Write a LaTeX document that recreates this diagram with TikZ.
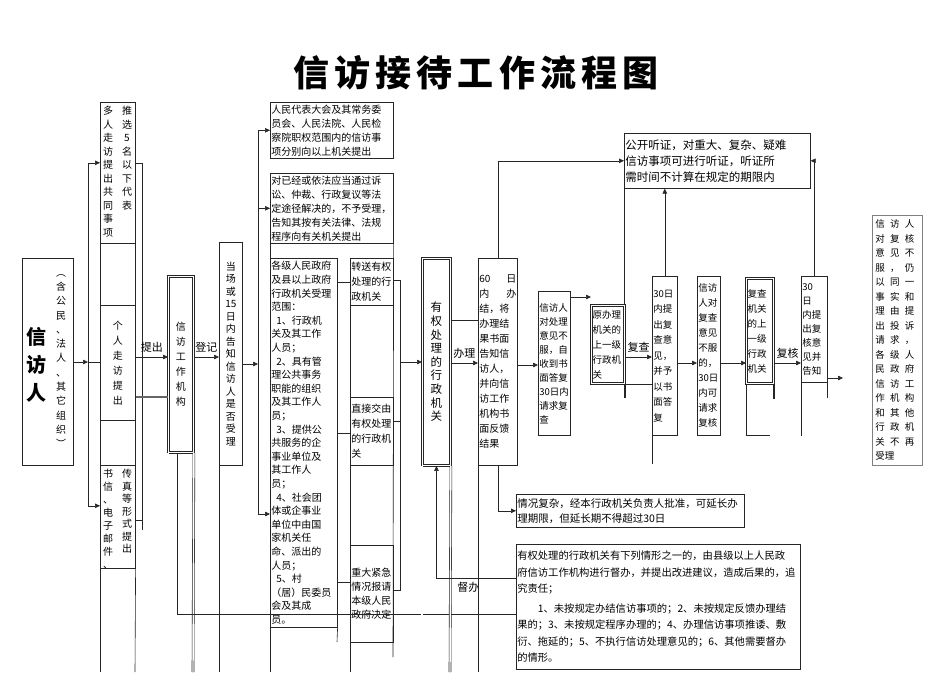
\documentclass[tikz,border=0pt]{standalone}
\usepackage{fontspec}
\setmainfont{Noto Sans CJK SC}
\usetikzlibrary{arrows.meta}
\newcommand{\fz}[2]{\fontsize{#1}{#2}\selectfont}
\newcommand{\trio}[3]{\makebox[39pt][s]{#1\hfil#2\hfil#3}}

\begin{document}
\begin{tikzpicture}[x=1pt,y=-1pt,line width=0.6pt,draw=black!85,
		box/.style={draw,anchor=north west,inner sep=1pt,font=\fz{10}{14}},
		vbox/.style={box,align=center},
		hbox/.style={box,align=left},
		col/.style={anchor=north,align=center,inner sep=2pt},
		dbl/.style={double,double distance=1.4pt},
		arr/.style={-{Triangle[length=5pt,width=4.5pt]}},
		lbl/.style={font=\fz{11}{13},inner sep=1pt}]
		\useasboundingbox (0,0) rectangle (950,672);
		\node[font=\fz{36}{38}\bfseries\addfontfeature{LetterSpace=14}] (title) at (476,73) {信访接待工作流程图};

		\node[box,minimum width=51pt,minimum height=207pt] (visitor) at (22,258) {};
		\node[font=\fz{20}{28}\bfseries,align=center] (vname) at (36,365) {信\\访\\人};
		\node[font=\fz{10}{14.3},align=center] (vnote) at (61,361) {︵\\含\\公\\民\\、\\法\\人\\、\\其\\它\\组\\织\\︶};

		\node[box,minimum width=35pt,minimum height=141pt] (group) at (100,102) {};
		\node[col,font=\fz{10}{13.5}] (groupR) at (127,104) {推\\选\\5\\名\\以\\下\\代\\表};
		\node[col,font=\fz{10}{13.5}] (groupL) at (108,104) {多\\人\\走\\访\\提\\出\\共\\同\\事\\项};
		\draw (100,243) rectangle (135,305);
		\node[vbox,minimum width=35pt,minimum height=115pt,font=\fz{10}{15}] (single) at (100,305) {个\\人\\走\\访\\提\\出};
		\draw (100,420) rectangle (135,465);
		\node[box,minimum width=35pt,minimum height=103pt] (letter) at (100,465) {};
		\node[col,font=\fz{10}{12.5}] (letterR) at (127,467) {传\\真\\等\\形\\式\\提\\出};
		\node[col,font=\fz{10}{13}] (letterL) at (108,467) {书\\信\\、\\电\\子\\邮\\件\\、};

		\node[vbox,dbl,line width=0.9pt,minimum width=25pt,minimum height=176pt,font=\fz{10}{15}] (org) at (168,276) {信\\访\\工\\作\\机\\构};
		\node[vbox,minimum width=23pt,minimum height=223pt,font=\fz{10}{12.5}] (notice) at (219,242) {当\\场\\或\\15\\日\\内\\告\\知\\信\\访\\人\\是\\否\\受\\理};

		\node[hbox,text width=121pt,minimum height=56pt] (npc) at (270,102) {人民代表大会及其常务委\\员会、人民法院、人民检\\察院职权范围内的信访事\\项分别向以上机关提出};
		\node[hbox,text width=121pt,minimum height=70pt] (exclude) at (270,173) {对已经或依法应当通过诉\\讼、仲裁、行政复议等法\\定途径解决的，不予受理，\\告知其按有关法律、法规\\程序向有关机关提出};
		\node[hbox,text width=65pt,minimum height=369pt,font=\fz{10}{13.6}] (gov) at (270,258) {各级人民政府\\及县以上政府\\行政机关受理\\范围：\\\hspace*{5pt}1、行政机\\关及其工作\\人员；\\\hspace*{5pt}2、具有管\\理公共事务\\职能的组织\\及其工作人\\员；\\\hspace*{5pt}3、提供公\\共服务的企\\事业单位及\\其工作人\\员；\\\hspace*{5pt}4、社会团\\体或企事业\\单位中由国\\家机关任\\命、派出的\\人员；\\\hspace*{5pt}5、村\\（居）民委员\\会及其成\\员。};
		\node[hbox,text width=41pt,minimum height=47pt,font=\fz{10}{15}] (transfer) at (350,258) {转送有权\\处理的行\\政机关};
		\node[hbox,text width=41pt,minimum height=68pt,font=\fz{10}{15}] (direct) at (350,397) {直接交由\\有权处理\\的行政机\\关};
		\node[hbox,text width=41pt,minimum height=97pt,font=\fz{10}{14}] (major) at (350,545) {重大紧急\\情况报请\\本级人民\\政府决定};

		\node[vbox,dbl,line width=0.9pt,minimum width=28pt,minimum height=207pt,font=\fz{11.5}{13.6}] (auth) at (422,258) {有\\权\\处\\理\\的\\行\\政\\机\\关};
		\node[hbox,text width=37pt,minimum height=207pt,font=\fz{10}{15}] (res) at (478,258) {60\hfill 日\\内\hfill 办\\结，将\\办理结\\果书面\\告知信\\访人，\\并向信\\访工作\\机构书\\面反馈\\结果};
		\node[hbox,text width=226pt,minimum height=33pt,font=\fz{10.5}{15}] (ext) at (516,494) {情况复杂，经本行政机关负责人批准，可延长办\\理期限，但延长期不得超过30日};
		\node[hbox,text width=282pt,minimum height=125pt,font=\fz{10.3}{16.5}] (super) at (516,544) {有权处理的行政机关有下列情形之一的，由县级以上人民政\\府信访工作机构进行督办，并提出改进建议，造成后果的，追\\究责任；\\[3pt]\hspace*{2em}1、未按规定办结信访事项的；2、未按规定反馈办理结\\果的；3、未按规定程序办理的；4、办理信访事项推诿、敷\\衍、拖延的；5、不执行信访处理意见的；6、其他需要督办\\的情形。};

		\node[hbox,text width=30pt,minimum height=144pt,font=\fz{9.5}{14}] (obj) at (538,291) {信访人\\对处理\\意见不\\服，自\\收到书\\面答复\\30日内\\请求复\\查};
		\node[hbox,text width=184pt,minimum height=55pt,font=\fz{11.5}{16}] (hear) at (624,133) {公开听证，对重大、复杂、疑难\\信访事项可进行听证，听证所\\需时间不计算在规定的期限内};
		\node[hbox,dbl,line width=1pt,text width=31pt,minimum height=78pt,font=\fz{9.5}{15}] (up1) at (591,305) {原办理\\机关的\\上一级\\行政机\\关};
		\node[hbox,text width=23pt,minimum height=159pt,font=\fz{9.5}{15.5}] (rev) at (652,276) {30日\\内提\\出复\\查意\\见，\\并予\\以书\\面答\\复};
		\node[hbox,text width=21pt,minimum height=159pt,font=\fz{9.5}{15}] (obj2) at (697,276) {信访\\人对\\复查\\意见\\不服\\的，\\30日\\内可\\请求\\复核};
		\node[hbox,dbl,line width=1pt,text width=25pt,minimum height=105pt,font=\fz{9.5}{15}] (up2) at (746,278) {复查\\机关\\的上\\一级\\行政\\机关};
		\node[hbox,text width=24pt,minimum height=106pt,font=\fz{9.5}{14}] (fin) at (801,276) {30\\日\\内提\\出复\\核意\\见并\\告知};
		\node[hbox,draw=gray,text width=44pt,inner xsep=3pt,minimum height=250pt,font=\fz{9.5}{14.5}] (final) at (872,215) {\trio{信}{访}{人}\\\trio{对}{复}{核}\\\trio{意}{见}{不}\\\trio{服}{，}{仍}\\\trio{以}{同}{一}\\\trio{事}{实}{和}\\\trio{理}{由}{提}\\\trio{出}{投}{诉}\\\trio{请}{求}{，}\\\trio{各}{级}{人}\\\trio{民}{政}{府}\\\trio{信}{访}{工}\\\trio{作}{机}{构}\\\trio{和}{其}{他}\\\trio{行}{政}{机}\\\trio{关}{不}{再}\\受理};

		\coordinate (fan) at (88,362);
		\coordinate (bus) at (258,364);
		\coordinate (fork) at (400,362);
		\coordinate (finout) at (843,378);
		\coordinate (o1) at ([yshift=-6pt]obj.north east);

		\draw[arr] (visitor.east |- fan) -- (fan);
		\draw[arr] (fan) |- ([yshift=10pt]group.west);
		\draw[arr] (fan) |- ([yshift=11pt]letter.west);
		\draw (fan) -- (single.west |- fan);
		\draw (letter.south west) -- (100,672);
		\draw (letter.south east) -- (135,672);
		\draw ([yshift=10pt]group.east) -| (142,530);
		\draw (letter.east |- 0,520) -- (142,520);
		\draw[arr] (single.east |- 0,357) -- node[lbl,above=3pt] (tichu) {提出} (org.west |- 0,357);
		\draw[line width=1.3pt,black!60] (single.east |- 0,397) -- (org.west |- 0,397);

		\draw[dbl] (org.south west) -- (168,672);
		\draw[dbl] (org.south east) -- (193,672);
		\draw ([xshift=9pt]org.south west) |- (super.west |- 0,614);
		\draw[arr] (org.east |- 0,357) -- node[lbl,above=3pt] (dengji) {登记} (notice.west |- 0,357);

		\draw (notice.south west) -- (219,672);
		\draw[arr] (notice.east |- bus) -- (bus);
		\draw[arr] (bus) |- (npc.west);
		\draw[arr] (bus) |- (exclude.west);
		\draw[arr] (bus) |- (gov.west |- 0,514);

		\draw (exclude.south west) -- (270,672);
		\draw (exclude.south east) -- (393,657);
		\draw (gov.south east) -- (337,642);
		\draw (transfer.south west) -- (direct.north west);
		\draw (direct.south west) -- (major.north west);
		\draw (major.south west) -- (350,672);
		\draw (gov.east |- 0,282) -- (transfer.west |- 0,282);
		\draw (gov.east |- 0,433) -- (direct.west |- 0,433);
		\draw (gov.east |- 0,582) -- (major.west |- 0,582);
		\draw (transfer.east |- 0,280) -| (400,590) -- (major.east |- 0,590);
		\draw (direct.east |- 0,421) -- (400,421);
		\draw[arr] (fork) -- (auth.west |- fork);

		\draw[dbl] (auth.south west) -- (422,672);
		\draw[dbl] (auth.south east) -- (450,672);
		\draw (auth.east |- 0,320) -- (res.west |- 0,320);
		\draw[arr] (auth.east |- 0,363) -- node[lbl,above=3pt] (banli) {办理} (res.west |- 0,363);
		\draw[arr] (super.west |- 0,578) -| node[lbl,below=3pt,pos=0.3] (duban) {督办} (auth.south);

		\draw (res.south west) -- (478,672);
		\draw[arr] (res.north) |- (hear.west);
		\draw[arr] (res.south) |- (ext.west);
		\draw[arr] (res.east |- 0,365) -- (obj.west |- 0,365);
		\draw[arr] (o1) -- (o1 -| up1.west);

		\draw (hear.south west) -- (hear.south west |- up1.north);
		\draw[line width=2pt] (up1.south east) -- ++(0,14);
		\draw[arr] (up1.east |- 0,357) -- node[lbl,above=3pt] (fucha) {复查} (rev.west |- 0,357);
		\draw (up1.south east) -- (rev.west |- up1.south);
		\draw (rev.south west) -- ++(0,28);
		\draw[arr] (rev.north) -- (rev.north |- hear.south);
		\draw[arr] (rev.east |- 0,363) -- (obj2.west |- 0,363);
		\draw[arr] (obj2.east |- 0,363) -- (up2.west |- 0,363);
		\draw (up2.south west) |- (770,435);
		\draw[line width=1.5pt] (up2.south east) -- ++(0,15);
		\draw[arr] (up2.east |- 0,363) -- node[lbl,above=3pt] (fuhe) {复核} (fin.west |- 0,363);
		\draw (fin.south west) -- ++(0,53);
		\draw (fin.south east) -- ++(0,15);
		\draw[arr] (fin.north) |- (hear.east);
		\draw[arr] (fin.east |- finout) -- (finout);
	\end{tikzpicture}
\end{document}
